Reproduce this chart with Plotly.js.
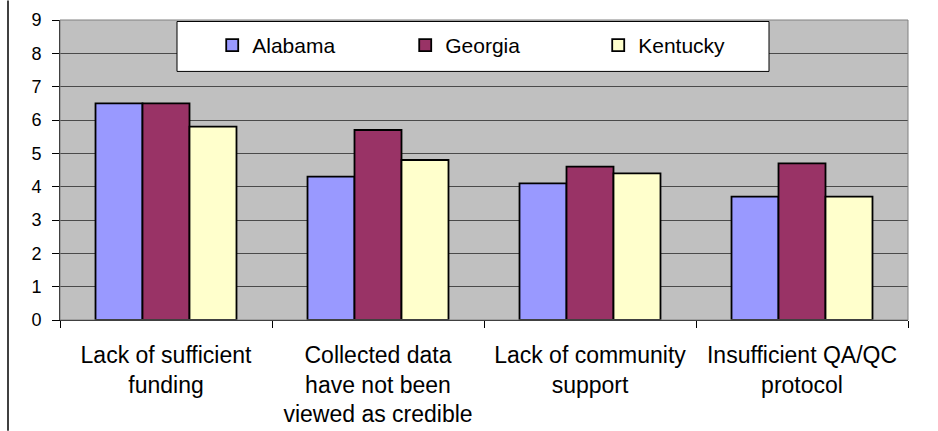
<!DOCTYPE html>
<html><head><meta charset="utf-8">
<script src="https://cdn.plot.ly/plotly-3.0.1.min.js"></script>
<style>html,body{margin:0;padding:0;background:#fff;}#chart{width:938px;height:431px;}</style>
</head><body><div id="chart"></div>
<script>
var categories = ["Lack of sufficient<br>funding", "Collected data<br>have not been<br>viewed as credible", "Lack of community<br>support", "Insufficient QA/QC<br>protocol"];
var seriesNames = ["Alabama", "Georgia", "Kentucky"];
var alabama = [6.5, 4.3, 4.1, 3.7];
var georgia = [6.5, 5.7, 4.6, 4.7];
var kentucky = [5.8, 4.8, 4.4, 3.7];
var yTicks = [0,1,2,3,4,5,6,7,8,9];

var colors = ["#9999FF", "#993366", "#FFFFCC"];
var vals = [alabama, georgia, kentucky];
var font = "Liberation Sans, Arial, sans-serif";
var traces = vals.map(function(v, i){
  return {type:"bar", x:categories, y:v, name:seriesNames[i],
    marker:{color:colors[i], line:{color:"#000", width:1.8}}};
});
var layout = {
  width:938, height:431,
  margin:{l:60, r:30, t:19.5, b:111, pad:0},
  paper_bgcolor:"#fff", plot_bgcolor:"#C0C0C0",
  barmode:"group", bargap:0.335, bargroupgap:0,
  font:{family:font, color:"#000"},
  xaxis:{type:"category", tickson:"boundaries", ticks:"outside", ticklen:7, tickcolor:"#000",
    showline:true, linecolor:"#000", linewidth:1, showgrid:false, ticklabelstandoff:14,
    tickfont:{size:23, family:font, color:"#000"}},
  yaxis:{range:[0,9], tickvals:yTicks, ticks:"outside", ticklen:7, tickcolor:"#000",
    showline:true, linecolor:"#000", linewidth:1, gridcolor:"#4a4a4a", gridwidth:1,
    zeroline:false, tickfont:{size:18, family:font, color:"#000"}, ticklabelstandoff:7},
  showlegend:true,
  legend:{orientation:"h", x:0.1795, xanchor:"left", y:0.915, yanchor:"middle",
    bgcolor:"rgba(0,0,0,0)", borderwidth:0, font:{size:21, family:font, color:"#000"},
    entrywidth:148, itemwidth:30},
  shapes:[
    {type:"rect", xref:"paper", yref:"paper", x0:0, x1:1, y0:0, y1:1, line:{color:"#808080", width:1}, layer:"above"},
    {type:"rect", xref:"paper", yref:"paper", x0:(177-60)/848, x1:(769-60)/848, y0:(320-71)/300.5, y1:(320-21)/300.5,
      fillcolor:"#fff", line:{color:"#000", width:1}, layer:"above"},
    {type:"line", xref:"paper", yref:"paper", x0:(8-60)/848, x1:(8-60)/848, y0:(320-431)/300.5, y1:(320-0)/300.5,
      line:{color:"#000", width:1.5}}
  ]
};
Plotly.newPlot("chart", traces, layout, {displayModeBar:false, staticPlot:true});
</script></body></html>
